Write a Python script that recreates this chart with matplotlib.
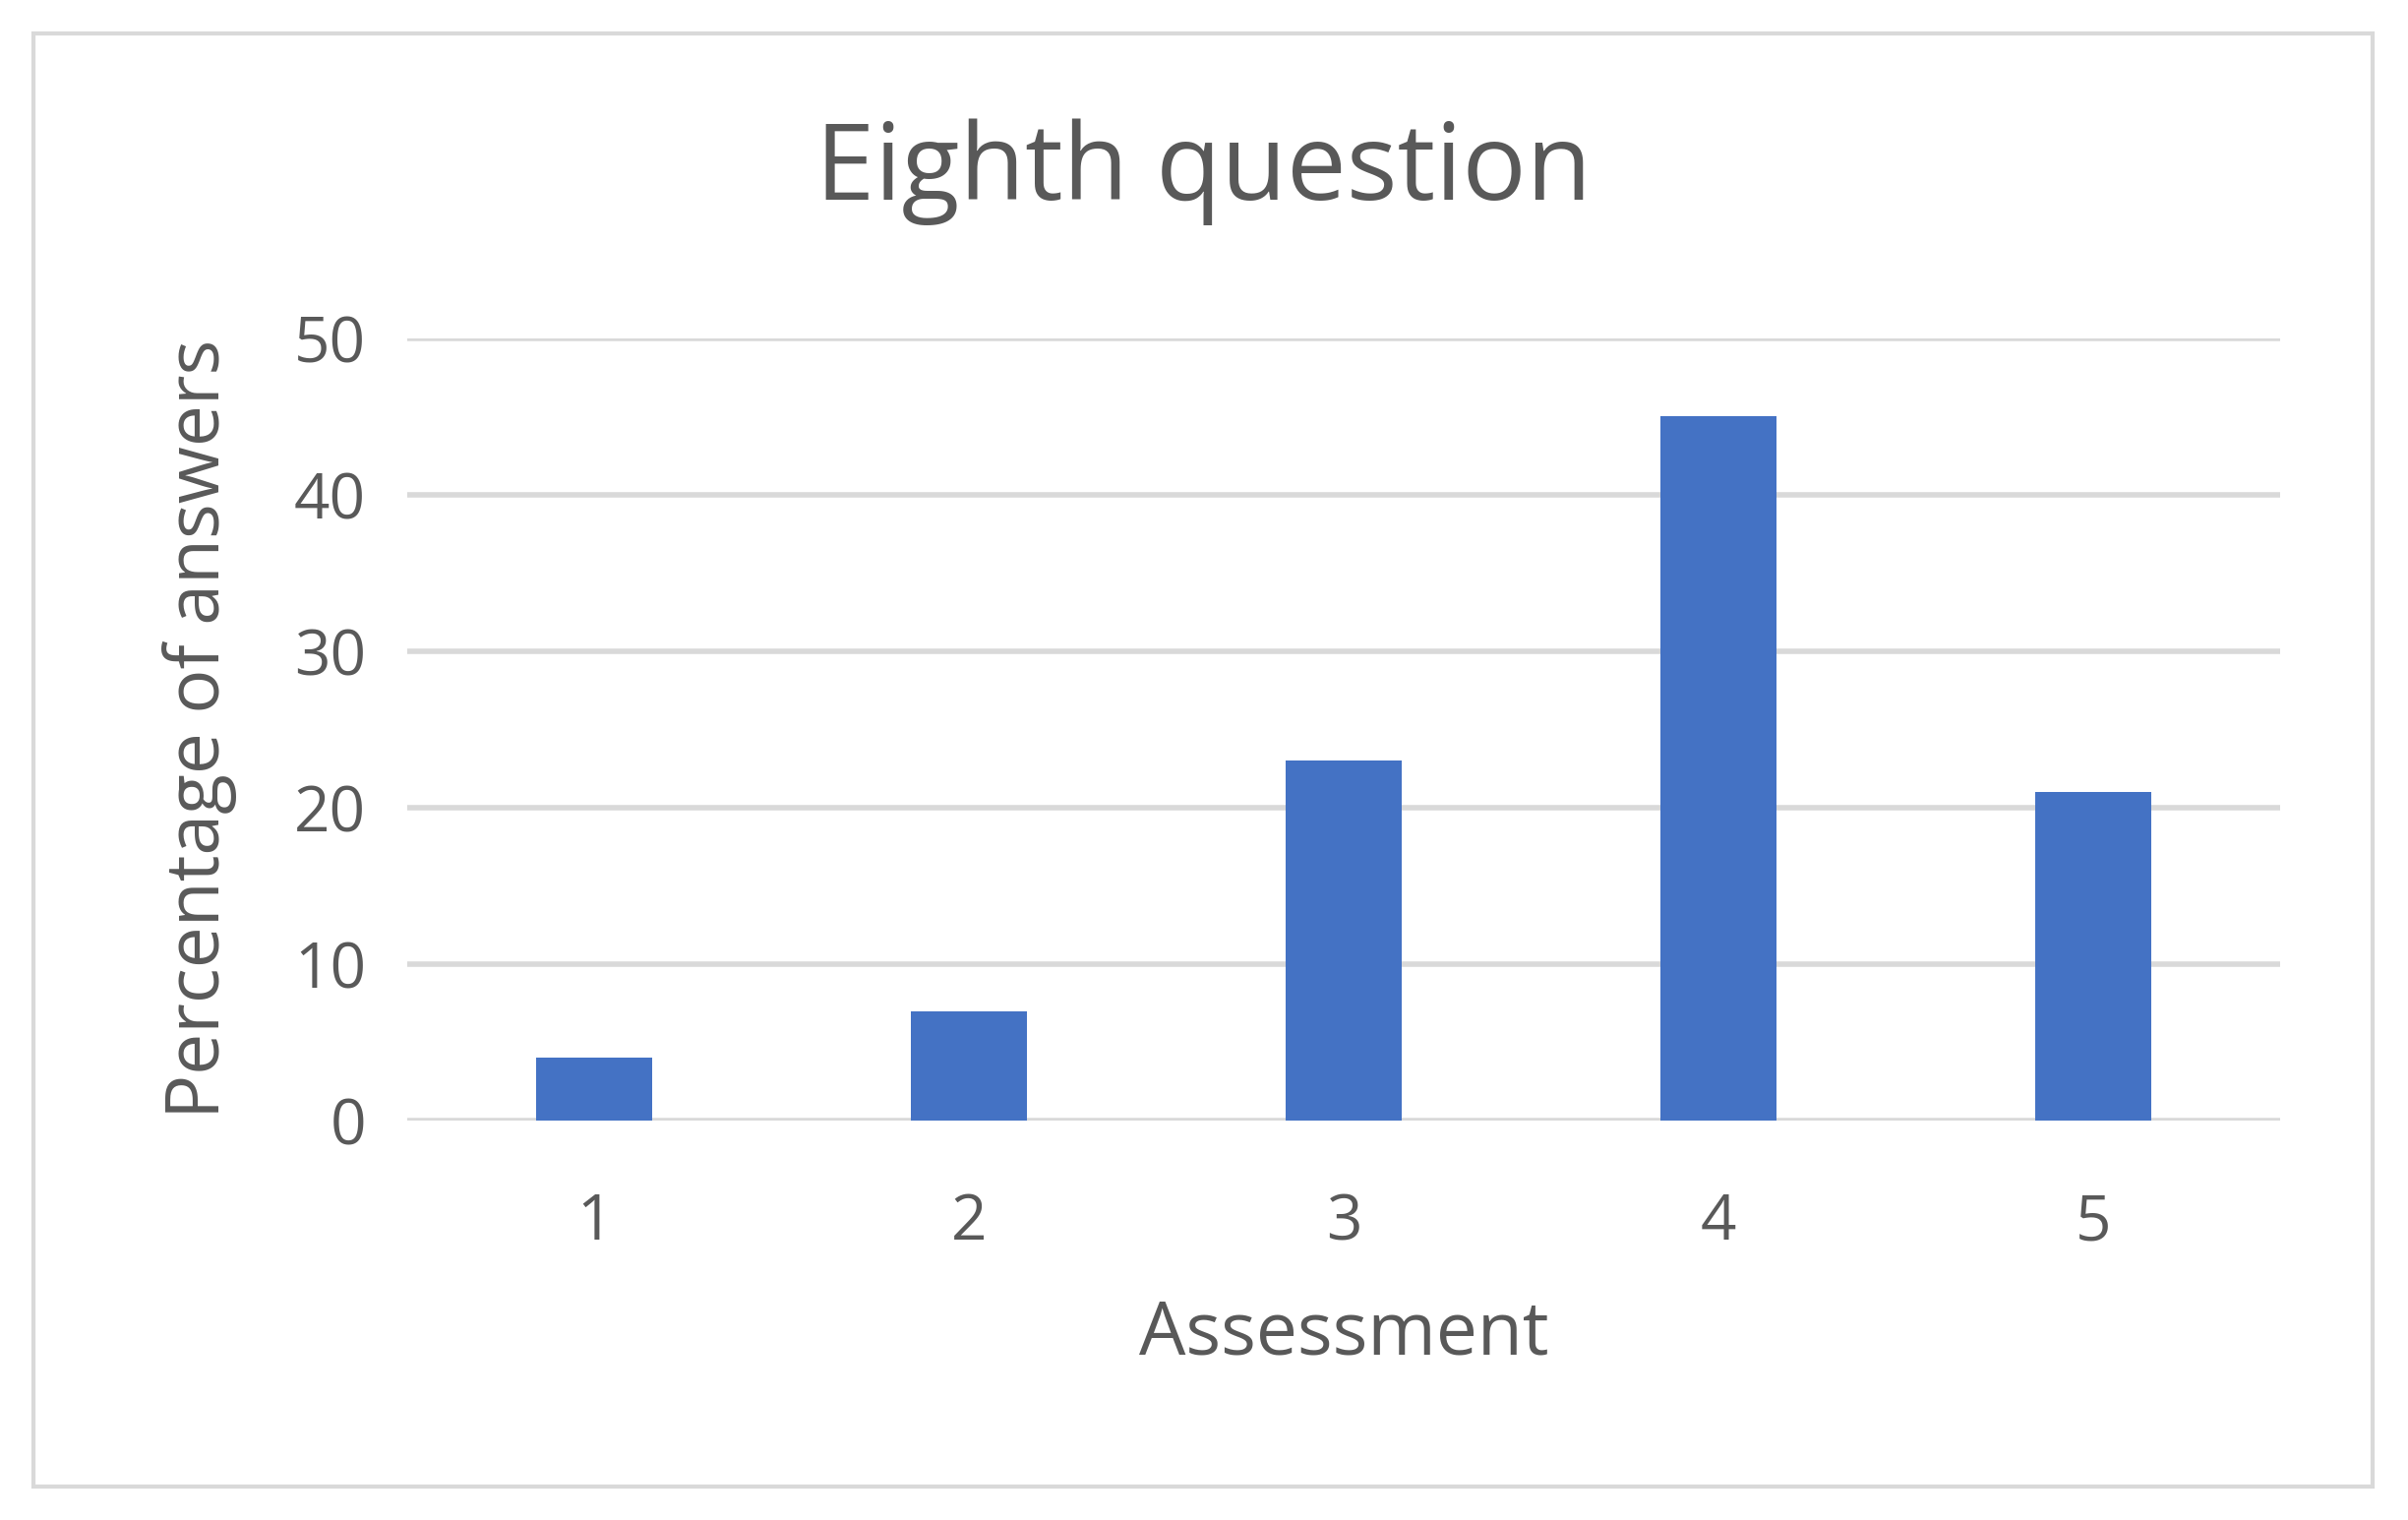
import matplotlib
matplotlib.use("Agg")
import matplotlib.pyplot as plt
from matplotlib.patches import Rectangle

categories = ["1", "2", "3", "4", "5"]
values = [4, 7, 23, 45, 21]
yticks = [0, 10, 20, 30, 40, 50]

plt.rcParams['font.family'] = ['Open Sans', 'DejaVu Sans']
fig = plt.figure(figsize=(24.48, 15.45), dpi=100)
fig.patches.append(Rectangle((22/1568, 1-967/989), (1545-22)/1568, (967-22)/989,
                             transform=fig.transFigure, fill=False, edgecolor='#D9D9D9', linewidth=3))
ax = fig.add_axes([265/1568, 1-729/989, (1485-265)/1568, (729-220)/989])
x = range(len(categories))
ax.bar(x, values, width=0.31, color='#4472C4', zorder=3)
ax.set_xlim(-0.5, 4.5)
ax.set_ylim(0, 50)
ax.set_yticks(yticks)
ax.set_xticks(list(x))
ax.set_xticklabels(categories)
ax.grid(axis='y', color='#D9D9D9', linewidth=4, zorder=0)
for s in ax.spines.values():
    s.set_visible(False)
ax.tick_params(length=0, labelsize=46, colors='#595959', pad=30)
ax.tick_params(axis='x', pad=52)
ax.set_xlabel("Assessment", fontsize=54, color='#595959', labelpad=32)
ax.set_ylabel("Percentage of answers", fontsize=54, color='#595959', labelpad=42)
fig.text(784/1568, 1-112/989, "Eighth question", fontsize=78, color='#595959', ha='center', va='center')
fig.savefig("out.png", dpi=100)
